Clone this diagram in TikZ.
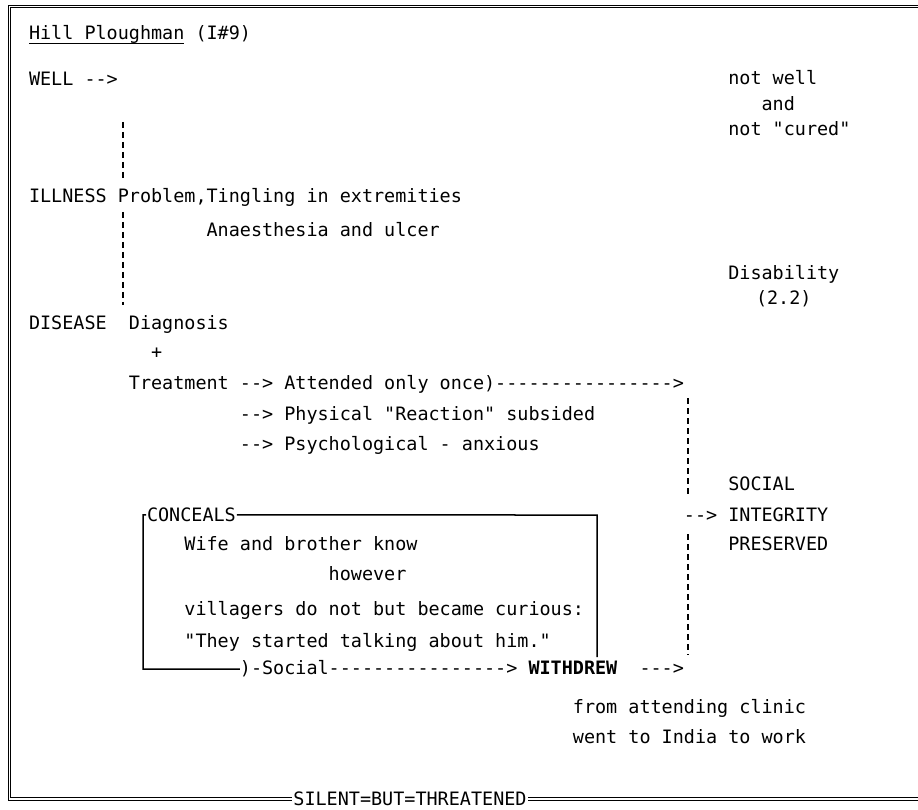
\documentclass[tikz,border=0pt]{standalone}
\usepackage{fontspec}
\setmonofont{DejaVu Sans Mono}
\begin{document}
\begin{tikzpicture}[x=1pt,y=-1pt,
  tw/.style={anchor=base west,inner sep=0pt,outer sep=0pt,
    font=\ttfamily\fontsize{18.44}{22}\selectfont},
  rule/.style={line width=1.5pt},
  tick/.style={line width=1.8pt,dash pattern=on 6pt off 4pt},
  border/.style={draw=black,line width=1.1pt,double=white,double distance=1.6pt}]
\useasboundingbox (0,0) rectangle (918,810);
\fill[white] (0,0) rectangle (918,810);

% outer frame, open on the right
\draw[border] (918,6.5) -- (9.5,6.5) -- (9.5,799) -- (918,799);

% title
\node[tw] (title) at (29,39.7) {Hill Ploughman (I\#9)};
\draw[line width=1.1pt] ([yshift=-3.5pt]title.base west) -- ++(155,0);

% left column: stages
\node[tw] (well) at (29,85.7) {WELL -->};
\node[tw] (ill) at (29,202.7) {ILLNESS Problem,Tingling in extremities};
\node[tw] (anaes) at (206.6,236.7) {Anaesthesia and ulcer};
\node[tw] (dis) at (29,329.7) {DISEASE~~Diagnosis};
\node[tw] (plus) at (151,358.7) {+};
\node[tw] (treat) at (128.9,389.7) {Treatment --> Attended only once)---------------->};
\node[tw] (phys) at (239.9,420.7) {--> Physical "Reaction" subsided};
\node[tw] (psych) at (239.9,450.7) {--> Psychological - anxious};

% right column: outcomes
\node[tw] (notwell) at (728.3,84.7) {not well};
\node[tw] (and) at (761.6,110.7) {and};
\node[tw] (cured) at (728.3,135.7) {not "cured"};
\node[tw] (disab) at (728.3,279.7) {Disability};
\node[tw] (num) at (756,304.7) {(2.2)};
\node[tw] (social) at (728.3,490.7) {SOCIAL};
\node[tw] (integ) at (683.9,521.7) {--> INTEGRITY};
\node[tw] (pres) at (728.3,550.7) {PRESERVED};

% concealment box contents
\node[tw] (conceals) at (147,521.7) {CONCEALS};
\node[tw] (wife) at (184.4,550.7) {Wife and brother know};
\node[tw] (however) at (328.7,580.7) {however};
\node[tw] (vill) at (184.4,615.7) {villagers do not but became curious:};
\node[tw] (they) at (184.4,647.7) {"They started talking about him."};
\node[tw] (soc) at (239.9,674.7) {)-Social---------------->};
\node[tw] (withdrew) at (528.5,674.7) {\textbf{WITHDREW}};
\node[tw] (warrow) at (639.5,674.7) {--->};
\node[tw] (from) at (572.9,713.7) {from attending clinic};
\node[tw] (went) at (572.9,743.7) {went to India to work};

% box outline
\coordinate (bxBL) at (143,669);
\coordinate (bxTR) at (597,515);
\coordinate (bxBR) at (597,657);
\draw[rule] ([xshift=-1pt]conceals.west) -| (bxBL) -- ([yshift=5.5pt]soc.base west);
\draw[rule] ([xshift=1pt]conceals.east) -- (bxTR) -- (bxBR);

% broken vertical guides
\coordinate (lA) at (123,122);
\coordinate (lB) at (123,178);
\coordinate (lC) at (123,212);
\coordinate (lD) at (123,305);
\draw[tick] (lA) -- (lB);
\draw[tick] (lC) -- (lD);
\coordinate (rA) at (688,398);
\coordinate (rB) at (688,496);
\coordinate (rC) at (688,534);
\coordinate (rD) at (688,655);
\draw[tick] (rA) -- (rB);
\draw[tick] (rC) -- (rD);

% closing label set into the bottom rule
\node[anchor=base,inner sep=0pt,outer sep=0pt,fill=white,inner xsep=1pt,
  font=\ttfamily\fontsize{18.44}{22}\selectfont] (silent) at (410,805.2) {SILENT=BUT=THREATENED};
\end{tikzpicture}
\end{document}
